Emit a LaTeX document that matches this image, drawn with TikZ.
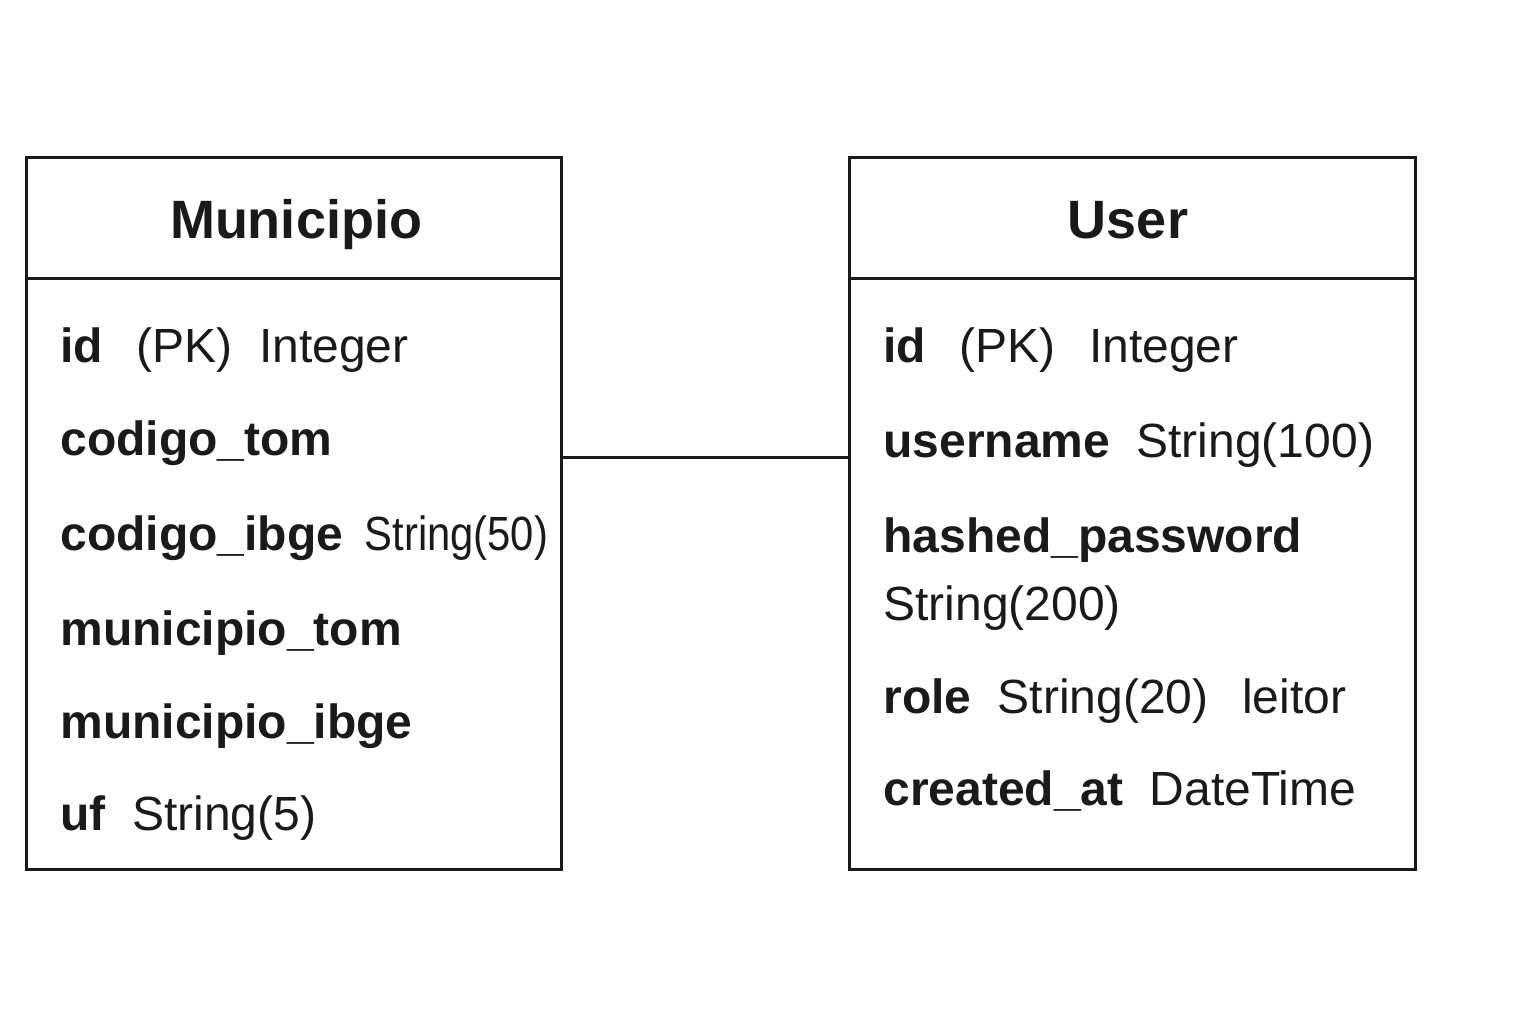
\documentclass[tikz,border=0pt]{standalone}
\usepackage{fontspec}
\setmainfont{Liberation Sans}
\definecolor{ink}{HTML}{1A1A1A}
\newcommand{\gap}{\hspace{0.55em}}
\newcommand{\wgap}{\hspace{0.7em}}
\begin{document}
\begin{tikzpicture}[
   x=0.5pt,y=-0.5pt,
   every node/.style={inner sep=0pt,text=ink},
   tab/.style={draw=ink,line width=1.5pt,rectangle,anchor=north west},
   title/.style={anchor=base,font=\fontsize{27}{30}\selectfont\bfseries},
   field/.style={anchor=base west,font=\fontsize{24}{28}\selectfont},
   link/.style={draw=ink,line width=1.5pt}]
\useasboundingbox (0,0) rectangle (1536,1024);
% Municipio
\node[tab,minimum width=267.5pt,minimum height=60.5pt] (munhead) at (25,156) {};
\node[tab,minimum width=267.5pt,minimum height=295.5pt] (munbody) at (25,277) {};
\node[title] (muntitle) at (296,238) {Municipio};
\node[field] (munid) at (60,362) {\textbf{id}\wgap(PK)\gap Integer};
\node[field] (muncodtom) at (60,455) {\textbf{codigo\_tom}};
\node[field] (muncodibge) at (60,550) {\textbf{codigo\_ibge}\hspace{0.45em}\scalebox{0.87}[1]{String(50)}};
\node[field] (munmuntom) at (60,645) {\textbf{municipio\_tom}};
\node[field] (munmunibge) at (60,738) {\textbf{municipio\_ibge}};
\node[field] (munuf) at (60,830) {\textbf{uf}\gap String(5)};
% User
\node[tab,minimum width=283pt,minimum height=60.5pt] (userhead) at (848,156) {};
\node[tab,minimum width=283pt,minimum height=295.5pt] (userbody) at (848,277) {};
\node[title] (usertitle) at (1128,238) {User};
\node[field] (userid) at (883,362) {\textbf{id}\wgap(PK)\wgap Integer};
\node[field] (username) at (883,457) {\textbf{username}\gap String(100)};
\node[field] (userpwd) at (883,552) {\textbf{hashed\_password}};
\node[field] (userpwdtype) at (883,620) {String(200)};
\node[field] (userrole) at (883,713) {\textbf{role}\gap String(20)\wgap leitor};
\node[field] (usercreated) at (883,805) {\textbf{created\_at}\gap DateTime};
% relation
\draw[link] ([yshift=58.25pt]munbody.east) -- ([yshift=58.25pt]userbody.west);
\end{tikzpicture}
\end{document}
